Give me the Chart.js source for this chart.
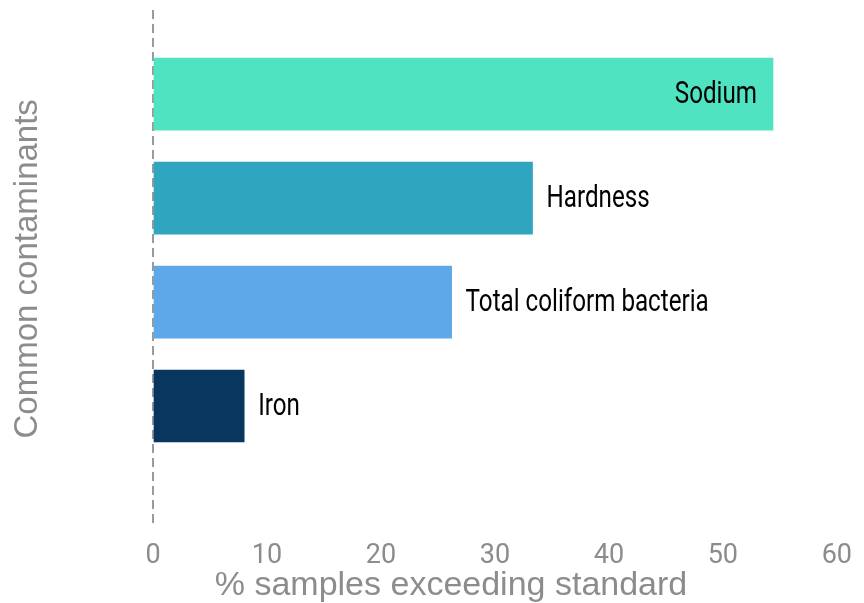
<!DOCTYPE html>
<html>
<head>
<meta charset="utf-8">
<script src="https://cdn.jsdelivr.net/npm/chart.js@4/dist/chart.umd.min.js"></script>
<style>
    html, body { margin: 0; padding: 0; background: #fff; }
    #wrap { width: 864px; height: 603px; }
</style>
</head>
<body>
<div id="wrap"><canvas id="chart"></canvas></div>
<script>
// contaminants, top to bottom
const contaminants = ['Sodium', 'Hardness', 'Total coliform bacteria', 'Iron']
const percent_exceeding = [54.4, 33.3, 26.2, 8.0]
const bar_colors = ['#50e3c2', '#2fa5c0', '#5ca8e9', '#08365f']
const x_ticks = [0, 10, 20, 30, 40, 50, 60]
const x_title = '% samples exceeding standard'

const grey = '#8c8c8c'

// writes the contaminant name next to (or inside) each bar, squeezed to look condensed
const bar_labels = {
    id: 'bar_labels',
    afterDatasetsDraw(chart) {
        const ctx = chart.ctx
        const meta = chart.getDatasetMeta(0)
        const squeeze = 0.78
        ctx.save()
        ctx.font = '31px Roboto, sans-serif'
        ctx.fillStyle = '#000'
        ctx.textBaseline = 'middle'
        meta.data.forEach((bar, i) => {
            const label = contaminants[i]
            const w = ctx.measureText(label).width * squeeze
            const x = percent_exceeding[i] > 45 ? bar.x - 16 - w : bar.x + 14
            ctx.save()
            ctx.translate(x, bar.y + 1)
            ctx.scale(squeeze, 1)
            ctx.textAlign = 'left'
            ctx.fillText(label, 0, 0)
            ctx.restore()
        })
        ctx.restore()
    }
}

// x axis title sits a bit left of the plot centre in the original
const x_axis_title = {
    id: 'x_axis_title',
    afterDraw(chart) {
        const ctx = chart.ctx
        ctx.save()
        ctx.font = '34px "Liberation Sans", Arial, sans-serif'
        ctx.fillStyle = grey
        ctx.textAlign = 'center'
        ctx.textBaseline = 'middle'
        ctx.fillText(x_title, 451, chart.height - 17)
        ctx.restore()
    }
}

new Chart(document.getElementById('chart'), {
    type: 'bar',
    data: {
        datasets: [{
            data: percent_exceeding.map((v, i) => ({ x: v, y: i })),
            backgroundColor: bar_colors,
            barThickness: 72,
            borderWidth: 0
        }]
    },
    plugins: [bar_labels, x_axis_title],
    options: {
        indexAxis: 'y',
        responsive: true,
        maintainAspectRatio: false,
        animation: false,
        layout: { padding: { top: 10, right: 9, left: 0, bottom: 19 } },
        plugins: { legend: { display: false }, tooltip: { enabled: false } },
        scales: {
            x: {
                type: 'linear',
                min: 0,
                max: 60,
                afterBuildTicks: (scale) => { scale.ticks = x_ticks.map(v => ({ value: v })) },
                grid: {
                    drawTicks: false,
                    lineWidth: 2,
                    color: (c) => c.tick && c.tick.value === 0 ? '#9a9a9a' : 'rgba(0,0,0,0)'
                },
                border: { display: false, dash: [9, 5] },
                ticks: {
                    color: grey,
                    padding: 12,
                    font: { family: 'Roboto, sans-serif', size: 27 }
                }
            },
            y: {
                type: 'linear',
                reverse: true,
                offset: false,
                min: -0.81,
                max: 4.17,
                grid: { display: false },
                border: { display: false },
                ticks: { display: false },
                afterFit: (scale) => { scale.width = 153 },
                title: {
                    display: true,
                    text: 'Common contaminants',
                    color: grey,
                    padding: { top: 8, bottom: 0 },
                    font: { family: '"Liberation Sans", Arial, sans-serif', size: 33 }
                }
            }
        }
    }
})
</script>
</body>
</html>
